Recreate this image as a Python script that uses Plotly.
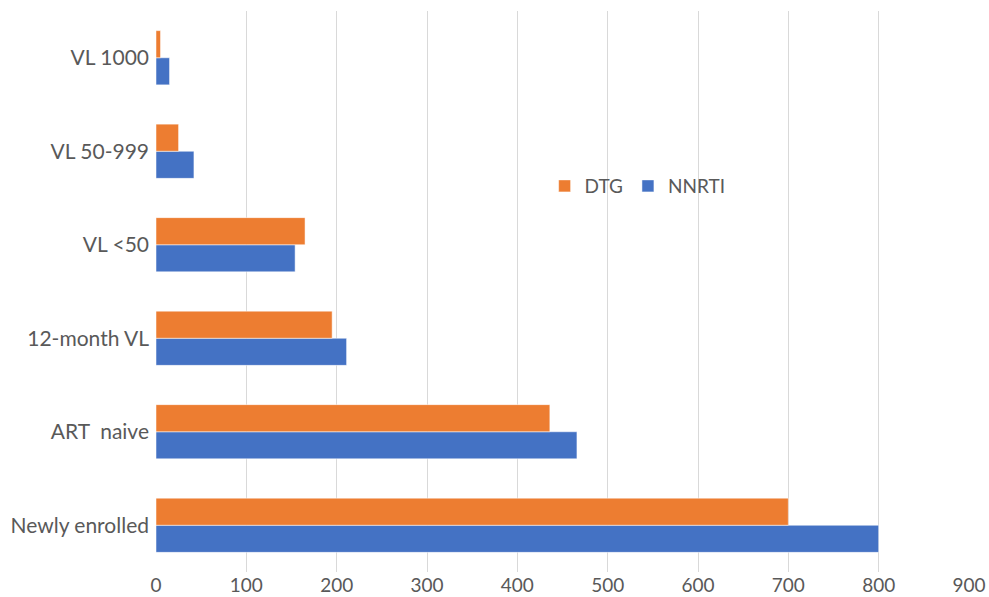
import plotly.graph_objects as go

categories = ["Newly enrolled", "ART  naive", "12-month VL", "VL <50", "VL 50-999", "VL 1000"]
dtg = [700, 436, 195, 165, 25, 5]
nnrti = [800, 466, 211, 154, 42, 15]
x_ticks = [0, 100, 200, 300, 400, 500, 600, 700, 800, 900]

fig = go.Figure()
fig.add_trace(go.Bar(y=categories, x=nnrti, name="NNRTI", orientation="h",
                     marker=dict(color="#4472C4", line=dict(color="rgba(255,255,255,0.5)", width=1))))
fig.add_trace(go.Bar(y=categories, x=dtg, name="DTG", orientation="h",
                     marker=dict(color="#ED7D31", line=dict(color="rgba(255,255,255,0.5)", width=1))))

fig.update_layout(
    width=989, height=597,
    margin=dict(l=156, r=20, t=11, b=25),
    paper_bgcolor="white", plot_bgcolor="white",
    barmode="group", bargap=0.42, bargroupgap=0,
    font=dict(family="Lato", size=20, color="#595959"),
    legend=dict(orientation="h", x=0.478, y=0.688, xanchor="left", yanchor="middle",
                traceorder="reversed", font=dict(size=19, color="#595959"),
                bgcolor="rgba(0,0,0,0)", itemwidth=30),
    showlegend=True,
)
fig.update_xaxes(range=[0, 900], tickvals=x_ticks, showgrid=True, gridcolor="#D9D9D9",
                 gridwidth=1.3, zeroline=False, showline=False, ticks="", fixedrange=True,
                 automargin=False, tickfont=dict(size=19))
fig.update_yaxes(type="category", categoryorder="array", categoryarray=categories,
                 showgrid=False, zeroline=False, showline=False, ticks="", ticklabelstandoff=6,
                 automargin=False, tickfont=dict(size=21), fixedrange=True)

fig.write_html("out.html", config={"displayModeBar": False},
               post_script="document.body.style.margin='0';document.body.style.overflow='hidden';")
